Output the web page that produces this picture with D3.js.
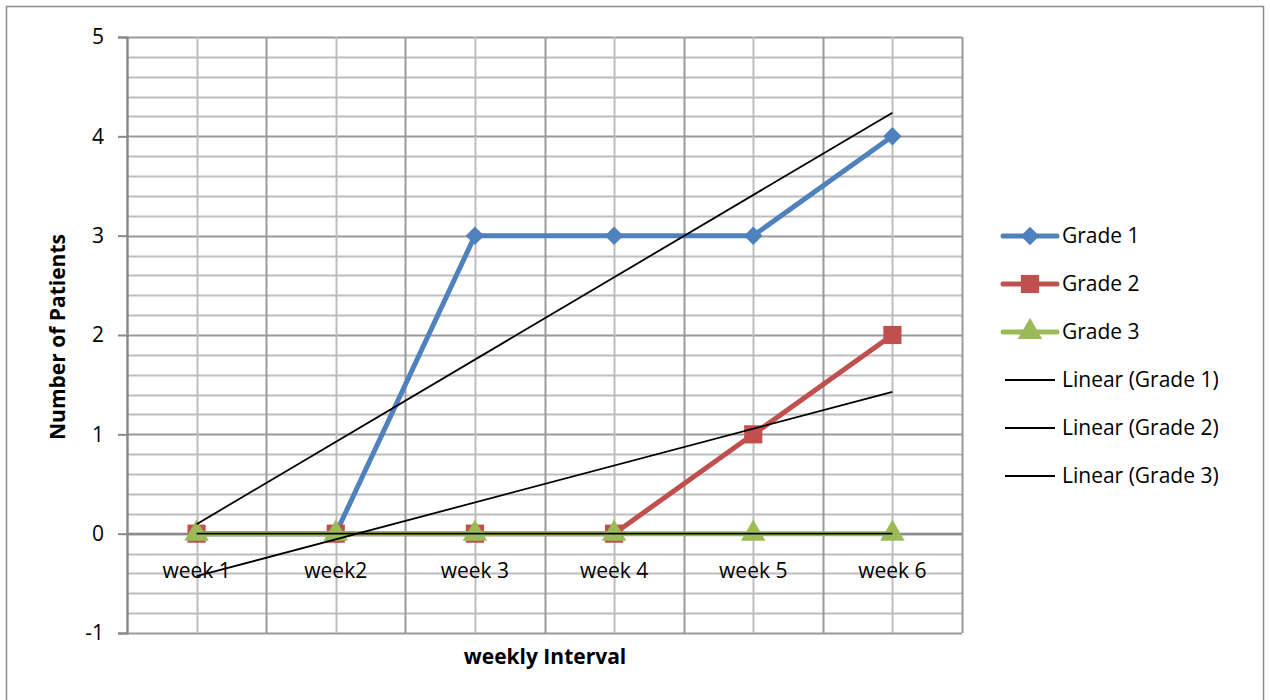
<!DOCTYPE html>
<html>
<head>
<meta charset="utf-8">
<script src="https://cdn.jsdelivr.net/npm/d3@7"></script>
<style>
  body { margin: 0; background: #fff; }
  text { font-family: "Open Sans", "Noto Sans", sans-serif; }
</style>
</head>
<body>
<svg id="chart" width="1270" height="700"></svg>
<script>
var weeks = ["week 1", "week2", "week 3", "week 4", "week 5", "week 6"];
var grade1 = [0, 0, 3, 3, 3, 4];
var grade2 = [0, 0, 0, 0, 1, 2];
var grade3 = [0, 0, 0, 0, 0, 0];
var yTicks = [-1, 0, 1, 2, 3, 4, 5];

var seriesList = [
    {name: "Grade 1", values: grade1, color: "#4F81BD", symbol: d3.symbolSquare, size: 170, rot: 45},
    {name: "Grade 2", values: grade2, color: "#C0504D", symbol: d3.symbolSquare, size: 330, rot: 0},
    {name: "Grade 3", values: grade3, color: "#9BBB59", symbol: d3.symbolTriangle, size: 260, rot: 0}
];

var svg = d3.select("#chart");
var pLeft = 127, pRight = 962, pTop = 37, pBottom = 633;

var x = d3.scaleBand().domain(weeks).range([pLeft, pRight]);
var y = d3.scaleLinear().domain([-1, 5]).range([pBottom, pTop]);
function cx(i) { return x(weeks[i]) + x.bandwidth() / 2; }

// outer frame
svg.append("rect").attr("x", 6.5).attr("y", 6.5).attr("width", 1257).attr("height", 700)
    .attr("fill", "none").attr("stroke", "#8c8c8c").attr("stroke-width", 1.5);

// horizontal grid (minor 0.2, major 1)
var minor = d3.range(-1, 5.001, 0.2);
svg.selectAll("line.hgrid").data(minor).enter().append("line")
    .attr("x1", pLeft).attr("x2", pRight)
    .attr("y1", function (d) { return Math.round(y(d)) + 0.5; })
    .attr("y2", function (d) { return Math.round(y(d)) + 0.5; })
    .attr("stroke", function (d) { return Math.abs(d - Math.round(d)) < 1e-6 ? "#999" : "#bdbdbd"; })
    .attr("stroke-width", 2);

// vertical grid: band edges and centers
var edges = weeks.map(function (w) { return x(w); }).concat([pRight]);
svg.selectAll("line.vmaj").data(edges).enter().append("line")
    .attr("y1", pTop).attr("y2", pBottom)
    .attr("x1", function (d) { return Math.round(d) + 0.5; })
    .attr("x2", function (d) { return Math.round(d) + 0.5; })
    .attr("stroke", "#9a9a9a").attr("stroke-width", 2);
svg.selectAll("line.vmin").data(weeks).enter().append("line")
    .attr("y1", pTop).attr("y2", pBottom)
    .attr("x1", function (d, i) { return Math.round(cx(i)) + 0.5; })
    .attr("x2", function (d, i) { return Math.round(cx(i)) + 0.5; })
    .attr("stroke", "#bdbdbd").attr("stroke-width", 2);

// y axis
var yAxis = svg.append("g").attr("transform", "translate(" + pLeft + ",0)")
    .call(d3.axisLeft(y).tickValues(yTicks).tickSize(9).tickPadding(14)
        .tickFormat(function (d) { return String(d); }));
yAxis.select(".domain").attr("stroke", "#888").attr("stroke-width", 2);
yAxis.selectAll(".tick line").attr("stroke", "#888").attr("stroke-width", 2);
yAxis.selectAll(".tick text").attr("font-size", 21).attr("fill", "#000")
    .style("font-family", "Open Sans, sans-serif");

// x axis line at zero
svg.append("line").attr("x1", pLeft).attr("x2", pRight)
    .attr("y1", y(0)).attr("y2", y(0)).attr("stroke", "#888").attr("stroke-width", 2);
svg.selectAll("text.xlab").data(weeks).enter().append("text")
    .attr("x", function (d, i) { return cx(i); })
    .attr("y", y(0) + 44)
    .attr("text-anchor", "middle").attr("font-size", 21).text(function (d) { return d; });

// series lines and markers
var line = d3.line().x(function (d, i) { return cx(i); }).y(function (d) { return y(d); });
seriesList.forEach(function (s) {
    svg.append("path").attr("d", line(s.values)).attr("fill", "none")
        .attr("stroke", s.color).attr("stroke-width", 5).attr("stroke-linejoin", "round");
    svg.selectAll(null).data(s.values).enter().append("path")
        .attr("d", d3.symbol().type(s.symbol).size(s.size))
        .attr("transform", function (d, i) { return "translate(" + cx(i) + "," + y(d) + ") rotate(" + s.rot + ")"; })
        .attr("fill", s.color);
});

// linear trendlines (least squares over x = 1..n)
function fit(vals) {
    var n = vals.length, xs = d3.range(1, n + 1);
    var mx = d3.mean(xs), my = d3.mean(vals);
    var sxy = d3.sum(xs, function (v, i) { return (v - mx) * (vals[i] - my); });
    var sxx = d3.sum(xs, function (v) { return (v - mx) * (v - mx); });
    var b = sxy / sxx, a = my - b * mx;
    return [a + b * 1, a + b * n];
}
seriesList.forEach(function (s) {
    var ends = fit(s.values);
    svg.append("line")
        .attr("x1", cx(0)).attr("y1", y(ends[0]))
        .attr("x2", cx(weeks.length - 1)).attr("y2", y(ends[1]))
        .attr("stroke", "#000").attr("stroke-width", 1.8);
});

// axis titles
svg.append("text").attr("x", 545).attr("y", 664).attr("text-anchor", "middle")
    .attr("font-size", 21).attr("font-weight", "bold").text("weekly Interval");
svg.append("text").attr("transform", "translate(65,337) rotate(-90)").attr("text-anchor", "middle")
    .attr("font-size", 21).attr("font-weight", "bold").text("Number of Patients");

// legend
var legendItems = seriesList.map(function (s) { return {name: s.name, s: s}; })
    .concat(seriesList.map(function (s) { return {name: "Linear (" + s.name + ")", s: null}; }));
var lg = svg.selectAll("g.leg").data(legendItems).enter().append("g")
    .attr("transform", function (d, i) { return "translate(1003," + (236 + i * 48) + ")"; });
lg.append("line").attr("x1", function (d) { return d.s ? 0 : 2; }).attr("x2", function (d) { return d.s ? 54 : 52; })
    .attr("stroke", function (d) { return d.s ? d.s.color : "#000"; })
    .attr("stroke-width", function (d) { return d.s ? 5 : 1.8; })
    .attr("stroke-linecap", function (d) { return d.s ? "round" : "butt"; });
lg.filter(function (d) { return d.s; }).append("path")
    .attr("d", function (d) { return d3.symbol().type(d.s.symbol).size(d.s.size)(); })
    .attr("transform", function (d) { return "translate(27,0) rotate(" + d.s.rot + ")"; })
    .attr("fill", function (d) { return d.s.color; });
lg.append("text").attr("x", 59).attr("y", 7).attr("font-size", 21).text(function (d) { return d.name; });
</script>
</body>
</html>
